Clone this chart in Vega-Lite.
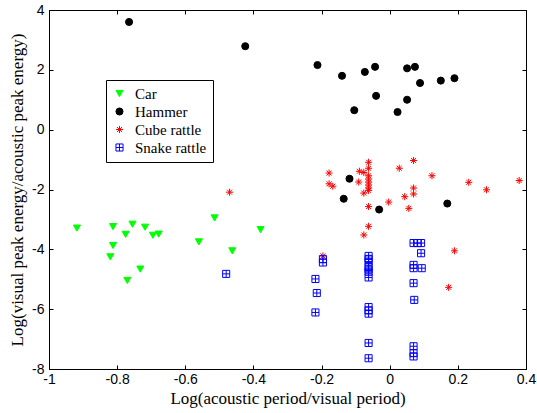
{
  "$schema": "https://vega.github.io/schema/vega-lite/v6.json",
  "width": 477,
  "height": 359,
  "autosize": {"type": "none"},
  "padding": {"left": 49, "top": 10, "right": 11, "bottom": 44},
  "background": "white",
  "config": {
    "view": {"stroke": "black", "strokeWidth": 1},
    "axis": {"grid": false, "domainColor": "black", "tickColor": "black", "labelColor": "black", "titleColor": "black",
             "labelFont": "Liberation Sans", "labelFontSize": 14, "titleFont": "Liberation Serif", "titleFontSize": 17, "titleFontWeight": "normal"}
  },
  "data": {"values": [
    {"x": -0.918, "y": -3.29, "s": "Car"},
    {"x": -0.812, "y": -3.24, "s": "Car"},
    {"x": -0.755, "y": -3.16, "s": "Car"},
    {"x": -0.718, "y": -3.26, "s": "Car"},
    {"x": -0.775, "y": -3.50, "s": "Car"},
    {"x": -0.695, "y": -3.53, "s": "Car"},
    {"x": -0.678, "y": -3.49, "s": "Car"},
    {"x": -0.812, "y": -3.87, "s": "Car"},
    {"x": -0.820, "y": -4.25, "s": "Car"},
    {"x": -0.732, "y": -4.66, "s": "Car"},
    {"x": -0.770, "y": -5.04, "s": "Car"},
    {"x": -0.514, "y": -2.95, "s": "Car"},
    {"x": -0.560, "y": -3.75, "s": "Car"},
    {"x": -0.462, "y": -4.05, "s": "Car"},
    {"x": -0.379, "y": -3.34, "s": "Car"},
    {"x": -0.178, "y": -1.45, "s": "Cube rattle"},
    {"x": -0.178, "y": -1.81, "s": "Cube rattle"},
    {"x": -0.167, "y": -1.89, "s": "Cube rattle"},
    {"x": -0.062, "y": -1.09, "s": "Cube rattle"},
    {"x": -0.062, "y": -1.29, "s": "Cube rattle"},
    {"x": -0.089, "y": -1.39, "s": "Cube rattle"},
    {"x": -0.076, "y": -1.43, "s": "Cube rattle"},
    {"x": -0.062, "y": -1.54, "s": "Cube rattle"},
    {"x": -0.062, "y": -1.65, "s": "Cube rattle"},
    {"x": -0.062, "y": -1.75, "s": "Cube rattle"},
    {"x": -0.062, "y": -1.85, "s": "Cube rattle"},
    {"x": -0.062, "y": -1.95, "s": "Cube rattle"},
    {"x": -0.062, "y": -2.03, "s": "Cube rattle"},
    {"x": -0.091, "y": -1.75, "s": "Cube rattle"},
    {"x": -0.076, "y": -2.12, "s": "Cube rattle"},
    {"x": -0.062, "y": -2.57, "s": "Cube rattle"},
    {"x": -0.062, "y": -3.23, "s": "Cube rattle"},
    {"x": -0.076, "y": -3.52, "s": "Cube rattle"},
    {"x": -0.003, "y": -2.42, "s": "Cube rattle"},
    {"x": 0.070, "y": -1.03, "s": "Cube rattle"},
    {"x": 0.028, "y": -1.29, "s": "Cube rattle"},
    {"x": 0.124, "y": -1.54, "s": "Cube rattle"},
    {"x": 0.070, "y": -1.95, "s": "Cube rattle"},
    {"x": 0.070, "y": -2.15, "s": "Cube rattle"},
    {"x": 0.044, "y": -2.24, "s": "Cube rattle"},
    {"x": 0.056, "y": -2.63, "s": "Cube rattle"},
    {"x": 0.232, "y": -1.76, "s": "Cube rattle"},
    {"x": 0.284, "y": -2.01, "s": "Cube rattle"},
    {"x": 0.380, "y": -1.70, "s": "Cube rattle"},
    {"x": 0.190, "y": -4.05, "s": "Cube rattle"},
    {"x": 0.173, "y": -5.27, "s": "Cube rattle"},
    {"x": -0.196, "y": -4.22, "s": "Cube rattle"},
    {"x": -0.470, "y": -2.09, "s": "Cube rattle"},
    {"x": -0.765, "y": 3.60, "s": "Hammer"},
    {"x": -0.424, "y": 2.79, "s": "Hammer"},
    {"x": -0.212, "y": 2.16, "s": "Hammer"},
    {"x": -0.140, "y": 1.80, "s": "Hammer"},
    {"x": -0.073, "y": 1.93, "s": "Hammer"},
    {"x": -0.043, "y": 2.10, "s": "Hammer"},
    {"x": 0.051, "y": 2.05, "s": "Hammer"},
    {"x": 0.074, "y": 2.10, "s": "Hammer"},
    {"x": 0.089, "y": 1.56, "s": "Hammer"},
    {"x": 0.150, "y": 1.64, "s": "Hammer"},
    {"x": 0.190, "y": 1.72, "s": "Hammer"},
    {"x": -0.040, "y": 1.13, "s": "Hammer"},
    {"x": 0.051, "y": 1.00, "s": "Hammer"},
    {"x": -0.104, "y": 0.65, "s": "Hammer"},
    {"x": 0.023, "y": 0.59, "s": "Hammer"},
    {"x": -0.118, "y": -1.64, "s": "Hammer"},
    {"x": -0.135, "y": -2.31, "s": "Hammer"},
    {"x": -0.031, "y": -2.67, "s": "Hammer"},
    {"x": 0.169, "y": -2.47, "s": "Hammer"},
    {"x": -0.480, "y": -4.82, "s": "Snake rattle"},
    {"x": -0.196, "y": -4.33, "s": "Snake rattle"},
    {"x": -0.196, "y": -4.44, "s": "Snake rattle"},
    {"x": -0.218, "y": -4.99, "s": "Snake rattle"},
    {"x": -0.214, "y": -5.46, "s": "Snake rattle"},
    {"x": -0.218, "y": -6.11, "s": "Snake rattle"},
    {"x": -0.062, "y": -4.22, "s": "Snake rattle"},
    {"x": -0.062, "y": -4.32, "s": "Snake rattle"},
    {"x": -0.062, "y": -4.41, "s": "Snake rattle"},
    {"x": -0.062, "y": -4.59, "s": "Snake rattle"},
    {"x": -0.062, "y": -4.67, "s": "Snake rattle"},
    {"x": -0.062, "y": -4.75, "s": "Snake rattle"},
    {"x": -0.062, "y": -4.94, "s": "Snake rattle"},
    {"x": -0.062, "y": -5.93, "s": "Snake rattle"},
    {"x": -0.062, "y": -6.04, "s": "Snake rattle"},
    {"x": -0.062, "y": -6.15, "s": "Snake rattle"},
    {"x": -0.062, "y": -7.13, "s": "Snake rattle"},
    {"x": -0.062, "y": -7.64, "s": "Snake rattle"},
    {"x": 0.070, "y": -3.79, "s": "Snake rattle"},
    {"x": 0.082, "y": -3.79, "s": "Snake rattle"},
    {"x": 0.092, "y": -3.79, "s": "Snake rattle"},
    {"x": 0.092, "y": -4.13, "s": "Snake rattle"},
    {"x": 0.070, "y": -4.52, "s": "Snake rattle"},
    {"x": 0.070, "y": -4.63, "s": "Snake rattle"},
    {"x": 0.094, "y": -4.63, "s": "Snake rattle"},
    {"x": 0.070, "y": -5.13, "s": "Snake rattle"},
    {"x": 0.072, "y": -5.69, "s": "Snake rattle"},
    {"x": 0.070, "y": -7.24, "s": "Snake rattle"},
    {"x": 0.070, "y": -7.47, "s": "Snake rattle"},
    {"x": 0.070, "y": -7.58, "s": "Snake rattle"}
  ]},
  "layer": [
    {
      "mark": {"type": "point", "size": 50, "strokeWidth": 1, "opacity": 1},
      "encoding": {
        "x": {"field": "x", "type": "quantitative", "scale": {"domain": [-1, 0.4], "nice": false, "zero": false},
              "axis": {"orient": "bottom", "values": [-1, -0.8, -0.6, -0.4, -0.2, 0, 0.2, 0.4], "labelExpr": "datum.value + ''",
                       "tickSize": -4, "labelPadding": 7, "title": "Log(acoustic period/visual period)", "titlePadding": 4, "labelFlush": false}},
        "y": {"field": "y", "type": "quantitative", "scale": {"domain": [-8, 4], "nice": false, "zero": false},
              "axis": {"orient": "left", "values": [-8, -6, -4, -2, 0, 2, 4], "labelExpr": "datum.value + ''",
                       "tickSize": -4, "labelPadding": 9, "title": "Log(visual peak energy/acoustic peak energy)", "titlePadding": 5, "labelFlush": false}},
        "fill": {"field": "s", "type": "nominal",
                 "scale": {"domain": ["Car", "Hammer", "Cube rattle", "Snake rattle"], "range": ["#00ff00", "#000000", "#ff0000", "#0000ff"]},
                 "legend": {"orient": "none", "legendX": 57, "legendY": 70, "title": null, "strokeColor": "black", "fillColor": "white",
                            "padding": 6, "labelFont": "Liberation Serif", "labelFontSize": 15, "labelColor": "black",
                            "rowPadding": 2, "symbolSize": 50, "symbolStrokeWidth": 1, "labelOffset": 8}},
        "stroke": {"field": "s", "type": "nominal",
                   "scale": {"domain": ["Car", "Hammer", "Cube rattle", "Snake rattle"], "range": ["#00ff00", "#000000", "#ff0000", "#0000ff"]},
                   "legend": {"orient": "none", "legendX": 57, "legendY": 70, "title": null, "strokeColor": "black", "fillColor": "white",
                            "padding": 6, "labelFont": "Liberation Serif", "labelFontSize": 15, "labelColor": "black",
                            "rowPadding": 2, "symbolSize": 50, "symbolStrokeWidth": 1, "labelOffset": 8}},
        "shape": {"field": "s", "type": "nominal",
                  "scale": {"domain": ["Car", "Hammer", "Cube rattle", "Snake rattle"],
                            "range": ["triangle-down", "circle", "M-1,0H1M0,-1V1M-0.7,-0.7L0.7,0.7M-0.7,0.7L0.7,-0.7", "M-1,-1H1M1,-1V1M1,1H-1M-1,1V-1M0,-1V1M-1,0H1"]},
                  "legend": {"orient": "none", "legendX": 57, "legendY": 70, "title": null, "strokeColor": "black", "fillColor": "white",
                            "padding": 6, "labelFont": "Liberation Serif", "labelFontSize": 15, "labelColor": "black",
                            "rowPadding": 2, "symbolSize": 50, "symbolStrokeWidth": 1, "labelOffset": 8}}
      }
    },
    {
      "mark": {"type": "point", "opacity": 0},
      "encoding": {
        "x": {"field": "x", "type": "quantitative",
              "axis": {"orient": "top", "values": [-1, -0.8, -0.6, -0.4, -0.2, 0, 0.2, 0.4], "labels": false, "tickSize": -4, "title": null}},
        "y": {"field": "y", "type": "quantitative",
              "axis": {"orient": "right", "values": [-8, -6, -4, -2, 0, 2, 4], "labels": false, "tickSize": -4, "title": null}}
      }
    }
  ],
  "resolve": {"axis": {"x": "independent", "y": "independent"}}
}
